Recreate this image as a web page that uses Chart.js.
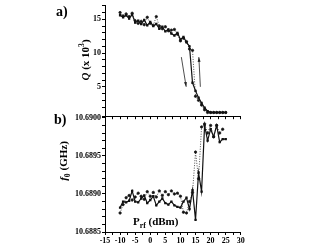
<!DOCTYPE html>
<html>
<head>
<meta charset="utf-8">
<script src="https://cdn.jsdelivr.net/npm/chart.js@4.4.1/dist/chart.umd.min.js"></script>
<style>
  body { margin: 0; background: #fff; width: 327px; height: 245px; position: relative; overflow: hidden;
         font-family: "Liberation Serif", "DejaVu Serif", serif; font-weight: bold; color: #000; }
  canvas { position: absolute; left: 0; }
  .lbl { position: absolute; white-space: nowrap; line-height: 1; }
  .rot { transform: translate(-50%, -50%) rotate(-90deg); }
  sub, sup { font-size: 70%; line-height: 0; }
</style>
</head>
<body>
<canvas id="chartQ" width="246" height="122" style="top:0"></canvas>
<canvas id="chartF" width="246" height="133" style="top:112px"></canvas>

<div class="lbl" style="left:56px;top:5px;font-size:14px">a)</div>
<div class="lbl" style="left:54px;top:113px;font-size:14px">b)</div>
<div class="lbl rot" style="left:85px;top:60px;font-size:11px"><i>Q</i> (x 10<sup>3</sup>)</div>
<div class="lbl rot" style="left:63px;top:161px;font-size:11px"><i>f</i><sub>0</sub> (GHz)</div>
<div class="lbl" style="left:133px;top:216px;font-size:11px">P<sub>rf</sub> (dBm)</div>

<script>
// power sweep (dBm)
const power = [-10,-9,-8,-7,-6,-5,-4,-3,-2,-1,0,1,2,3,4,5,6,7,8,9,10,11,12,13,14,15,16,17,18,19,20,21,22,23,24,25];

// quality factor (x 10^3)
const qSolid = [15.6,15.3,15.6,15.1,15.7,14.5,14.8,14.3,14.9,14.1,14.6,14.0,14.3,13.6,13.9,13.2,13.5,12.9,12.6,13.0,
                12.0,12.4,11.6,11.0,5.6,4.4,3.4,2.6,1.9,1.4,1.2,1.2,1.2,1.2,1.2,1.2];
const qDotted = [16.0,15.5,15.8,15.4,15.9,14.8,14.4,14.7,14.2,15.3,14.4,14.1,15.4,14.0,13.6,13.9,13.3,13.4,13.5,12.8,
                 11.8,12.2,11.7,10.6,10.4,3.6,3.0,2.3,1.6,1.2,1.2,1.2,1.2,1.2,1.2,1.2];

// resonance frequency (GHz)
const fSolid = [10.68882,10.68890,10.68889,10.68891,10.68904,10.68890,10.68889,10.68894,10.68898,10.68888,
                10.68892,10.68897,10.68885,10.68890,10.68894,10.68888,10.68886,10.68890,10.68885,10.68883,
                10.68882,10.68890,10.68895,10.68880,10.68905,10.68866,10.68928,10.68903,10.68990,10.68970,
                10.68985,10.68975,10.68990,10.68968,10.68972,10.68972];
const fDotted = [10.68875,10.68886,10.68895,10.68898,10.68892,10.68896,10.68901,10.68897,10.68893,10.68903,
                 10.68897,10.68902,10.68896,10.68904,10.68898,10.68903,10.68899,10.68904,10.68900,10.68901,
                 10.68897,10.68876,10.68875,10.68890,10.68902,10.68955,10.68920,10.68988,10.68992,10.68980,
                 10.68990,10.68975,10.68990,10.68980,10.68985,null];

// hysteresis arrows in data units [x, Q]
const arrows = [
  { from: [10.3, 9.4], to: [11.9, 5.0] },
  { from: [16.6, 5.0], to: [16.1, 9.4] }
];

const font = { family: "'Liberation Serif', serif", weight: "bold", size: 8 };
const pts = (ys) => power.map((x, i) => ({ x: x, y: ys[i] }));

function xScale(showLabels, height) {
  return {
    type: "linear", min: -15, max: 30,
    ticks: {
      stepSize: 2.5, maxTicksLimit: 100, autoSkip: false, maxRotation: 0, padding: 1,
      color: "#000", font: font,
      callback: (v) => (showLabels && v % 5 === 0) ? v : ""
    },
    grid: { drawOnChartArea: false, tickLength: 3, color: "#000" },
    border: { color: "#000", width: 1 },
    afterFit: (s) => { s.height = height; }
  };
}

function solidSet(ys) {
  return { data: pts(ys), borderColor: "#111", backgroundColor: "#111", borderWidth: 1.2,
           pointRadius: 0.8, pointStyle: "rect", tension: 0, spanGaps: true };
}
function dottedSet(ys) {
  return { data: pts(ys), borderColor: "#222", backgroundColor: "#111", borderWidth: 0.8,
           borderDash: [1, 1.5], pointRadius: 1.2, tension: 0, spanGaps: true };
}

const arrowPlugin = {
  id: "arrows",
  afterDatasetsDraw(chart) {
    const ctx = chart.ctx, x = chart.scales.x, y = chart.scales.y;
    ctx.save();
    ctx.strokeStyle = "#222";
    ctx.fillStyle = "#222";
    ctx.lineWidth = 0.8;
    arrows.forEach(a => {
      const x0 = x.getPixelForValue(a.from[0]), y0 = y.getPixelForValue(a.from[1]);
      const x1 = x.getPixelForValue(a.to[0]), y1 = y.getPixelForValue(a.to[1]);
      ctx.beginPath();
      ctx.moveTo(x0, y0);
      ctx.lineTo(x1, y1);
      ctx.stroke();
      const ang = Math.atan2(y1 - y0, x1 - x0);
      ctx.beginPath();
      ctx.moveTo(x1, y1);
      ctx.lineTo(x1 - 5 * Math.cos(ang - 0.3), y1 - 5 * Math.sin(ang - 0.3));
      ctx.lineTo(x1 - 5 * Math.cos(ang + 0.3), y1 - 5 * Math.sin(ang + 0.3));
      ctx.closePath();
      ctx.fill();
    });
    ctx.restore();
  }
};

const common = {
  responsive: false, animation: false, devicePixelRatio: 1,
  plugins: { legend: { display: false }, tooltip: { enabled: false } }
};

new Chart(document.getElementById("chartQ"), {
  type: "line",
  data: { datasets: [solidSet(qSolid), dottedSet(qDotted)] },
  options: {
    ...common,
    layout: { padding: { top: 4, right: 4, left: 0, bottom: 0 } },
    scales: {
      x: xScale(false, 5),
      y: {
        type: "linear", min: 0.65, max: 17,
        ticks: {
          stepSize: 1, maxTicksLimit: 100, autoSkip: false, padding: 1,
          color: "#000", font: font,
          callback: (v) => {
            const r = Math.round(v);
            return (Math.abs(v - r) < 1e-6 && r % 5 === 0 && r > 0) ? String(r) : "";
          }
        },
        grid: { drawOnChartArea: false, tickLength: 3, color: "#000" },
        border: { color: "#000", width: 1 },
        afterFit: (s) => { s.width = 105; }
      }
    }
  },
  plugins: [arrowPlugin]
});

new Chart(document.getElementById("chartF"), {
  type: "line",
  data: { datasets: [solidSet(fSolid), dottedSet(fDotted)] },
  options: {
    ...common,
    layout: { padding: { top: 5, right: 4, left: 0, bottom: 0 } },
    scales: {
      x: xScale(true, 13),
      y: {
        type: "linear", min: 10.6885, max: 10.6900,
        ticks: {
          stepSize: 0.0001, maxTicksLimit: 100, autoSkip: false, padding: 1,
          color: "#000", font: font,
          callback: (v, i) => (i % 5 === 0) ? v.toFixed(4) : ""
        },
        grid: { drawOnChartArea: false, tickLength: 3, color: "#000" },
        border: { color: "#000", width: 1 },
        afterFit: (s) => { s.width = 105; }
      }
    }
  }
});
</script>
</body>
</html>
